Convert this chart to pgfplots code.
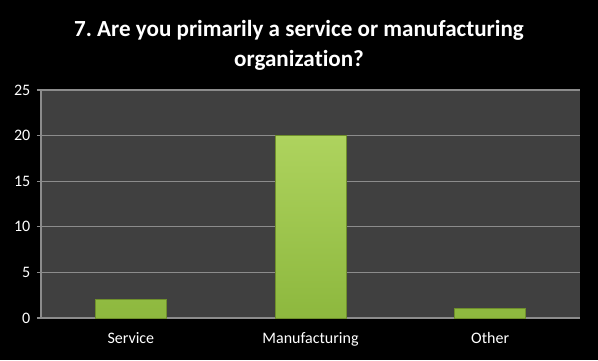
\documentclass[border=0pt]{standalone}
\usepackage{pgfplots}
\pgfplotsset{compat=1.18}
\usepackage{fontspec}
\setmainfont{Carlito}[Ligatures=NoCommon]
\frenchspacing
\definecolor{plotbg}{HTML}{404040}
\definecolor{gridc}{HTML}{8C8C8C}
\definecolor{bartop}{HTML}{AED35E}
\definecolor{barbot}{HTML}{8DB83E}
\definecolor{baredge}{HTML}{6F8F2C}
\begin{document}
\begin{tikzpicture}
\fill[black] (0pt,0pt) rectangle (448.5pt,270pt);
\node[text=white,font=\fontsize{17.3}{22.5}\selectfont\bfseries,align=center,anchor=center,inner sep=0pt] at (224.25pt,236.25pt) {7. Are you primarily a service or manufacturing\\organiza\kern0pt tion?};
\begin{axis}[
  at={(30.75pt,31.5pt)}, anchor=south west,
  scale only axis, width=404.25pt, height=171pt,
  xmin=-0.5, xmax=2.5, ymin=0, ymax=25,
  axis background/.style={fill=plotbg},
  axis x line*=bottom, axis y line*=left,
  axis line style={gridc, line width=0.8pt, -},
  ytick={0,5,...,25},
  ymajorgrids, grid style={gridc, line width=0.8pt},
  xtick={0,1,2}, xticklabels={Service,Manufacturing,Other},
  extra x ticks={-0.5,0.5,1.5,2.5}, extra x tick labels={},
  extra x tick style={major tick length=4pt, tick style={gridc, line width=0.8pt}, grid=none},
  major x tick style={draw=none},
  tick align=outside, major tick length=3pt,
  ytick style={gridc, line width=0.8pt},
  ticklabel style={text=white, font=\fontsize{12}{14}\selectfont},
  /pgf/number format/assume math mode=true,
  yticklabel style={xshift=-1.5pt},
  xticklabel style={yshift=-4pt},
  bar width=53.25pt,
]
\addplot[ybar, draw=baredge, line width=0.6pt, top color=bartop, bottom color=barbot] coordinates {(0,2) (1,20) (2,1)};
\end{axis}
\end{tikzpicture}
\end{document}
